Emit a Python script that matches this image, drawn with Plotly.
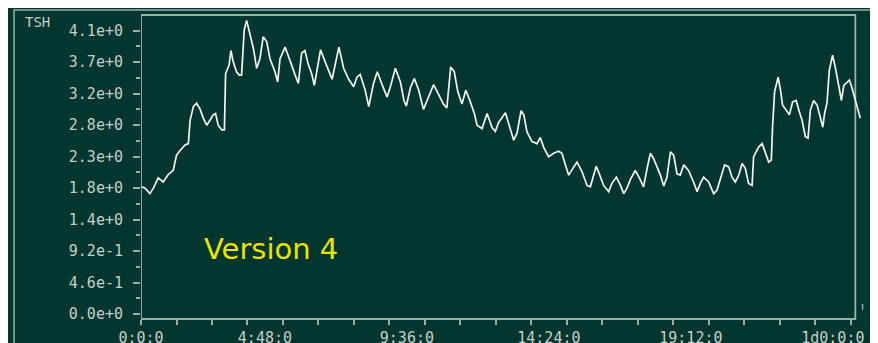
import plotly.graph_objects as go

# Time in hours since start, TSH value
hours = [0.02, 0.14, 0.30, 0.42, 0.58, 0.75, 0.92, 1.09, 1.20, 1.32, 1.49, 1.60, 1.66, 1.77, 1.88, 1.99,
         2.11, 2.22, 2.33, 2.44, 2.52, 2.61, 2.73, 2.82, 2.86, 2.98, 3.04, 3.12, 3.23, 3.32, 3.40, 3.49,
         3.57, 3.69, 3.80, 3.91, 4.02, 4.13, 4.25, 4.36, 4.53, 4.62, 4.70, 4.87, 4.98, 5.09, 5.21, 5.32,
         5.43, 5.54, 5.66, 5.77, 5.86, 6.07, 6.23, 6.46, 6.69, 6.85, 7.02, 7.19, 7.30, 7.41, 7.58, 7.70,
         7.86, 7.99, 8.16, 8.32, 8.43, 8.60, 8.77, 8.89, 8.97, 9.11, 9.24, 9.39, 9.55, 9.72, 9.89, 10.06,
         10.22, 10.34, 10.47, 10.59, 10.71, 10.85, 10.98, 11.10, 11.27, 11.36, 11.53, 11.70, 11.87, 11.98,
         12.09, 12.32, 12.43, 12.60, 12.71, 12.85, 12.94, 13.05, 13.22, 13.39, 13.50, 13.61, 13.78, 13.95,
         14.12, 14.23, 14.35, 14.46, 14.63, 14.74, 14.91, 15.08, 15.19, 15.30, 15.39, 15.51, 15.64, 15.81,
         15.92, 16.07, 16.21, 16.32, 16.43, 16.54, 16.71, 16.86, 16.99, 17.11, 17.22, 17.33, 17.45, 17.56,
         17.67, 17.78, 17.90, 18.01, 18.12, 18.23, 18.35, 18.51, 18.68, 18.80, 18.91, 19.02, 19.19, 19.36,
         19.47, 19.59, 19.73, 19.87, 19.98, 20.09, 20.21, 20.32, 20.43, 20.54, 20.66, 20.71, 20.88, 21.00,
         21.11, 21.22, 21.31, 21.35, 21.42, 21.54, 21.62, 21.69, 21.81, 21.92, 22.03, 22.15, 22.26, 22.35,
         22.46, 22.55, 22.63, 22.74, 22.86, 22.97, 23.05, 23.11, 23.19, 23.27, 23.38, 23.47, 23.57, 23.68,
         23.76, 23.87, 23.95, 24.04, 24.15, 24.24, 24.32]
tsh = [1.86, 1.84, 1.76, 1.84, 1.99, 1.93, 2.04, 2.10, 2.32, 2.39, 2.47, 2.49, 2.83, 3.03, 3.08, 3.00,
       2.86, 2.76, 2.83, 2.91, 2.93, 2.76, 2.69, 2.69, 3.51, 3.64, 3.85, 3.68, 3.54, 3.49, 3.49, 4.15,
       4.29, 4.07, 3.88, 3.59, 3.73, 4.05, 3.98, 3.73, 3.54, 3.39, 3.73, 3.90, 3.78, 3.64, 3.49, 3.37,
       3.81, 3.85, 3.64, 3.51, 3.34, 3.86, 3.68, 3.43, 3.90, 3.59, 3.43, 3.32, 3.46, 3.50, 3.27, 3.03,
       3.37, 3.54, 3.34, 3.17, 3.32, 3.59, 3.39, 3.12, 3.04, 3.31, 3.44, 3.27, 2.99, 3.17, 3.35, 3.21,
       3.07, 3.01, 3.61, 3.54, 3.25, 3.07, 3.27, 3.14, 2.93, 2.76, 2.71, 2.93, 2.72, 2.67,
       2.80, 2.94, 2.77, 2.54, 2.64, 2.97, 2.91, 2.66, 2.52, 2.49, 2.58, 2.44, 2.30, 2.35,
       2.38, 2.35, 2.18, 2.03, 2.15, 2.22, 2.08, 1.88, 1.86, 2.03, 2.16, 2.03, 1.88, 1.79,
       1.91, 2.00, 1.88, 1.76, 1.84, 1.96, 2.10, 1.98, 1.86, 2.13, 2.35, 2.27, 2.15, 2.03,
       1.87, 2.00, 2.37, 2.32, 2.05, 2.03, 2.18, 2.10, 1.93, 1.79, 1.91, 2.00, 1.93, 1.76,
       1.81, 2.00, 2.18, 2.15, 2.00, 1.93, 2.03, 2.20, 2.13, 1.91, 1.88, 2.30, 2.44, 2.49,
       2.37, 2.22, 2.25, 2.73, 3.25, 3.46, 3.27, 3.05, 2.98, 2.91, 3.10, 3.12, 2.95, 2.83,
       2.59, 2.57, 2.98, 3.12, 3.05, 2.88, 2.73, 2.93, 3.08, 3.56, 3.78, 3.61, 3.37, 3.12,
       3.34, 3.39, 3.42, 3.30, 3.10, 2.98, 2.86]

y_tick_vals = [0, 0.46, 0.92, 1.38, 1.84, 2.30, 2.76, 3.22, 3.68, 4.14]
y_tick_text = ["0.0e+0", "4.6e-1", "9.2e-1", "1.4e+0", "1.8e+0",
               "2.3e+0", "2.8e+0", "3.2e+0", "3.7e+0", "4.1e+0"]
x_tick_vals = [0, 4.8, 9.6, 14.4, 19.2, 24.0]
x_tick_labels = ["0:0:0", "4:48:0", "9:36:0", "14:24:0", "19:12:0", "1d0:0:0"]

BG = "#02362e"
FRAME = "#9ab0a9"
LABEL = "#c3cfcb"
NB = "\u00a0" * 4
x_tick_text = [x_tick_labels[0]] + [t + NB for t in x_tick_labels[1:]]

fig = go.Figure()
fig.add_trace(go.Scatter(x=hours, y=tsh, mode="lines",
                         line=dict(color="#f4f4f4", width=1.7),
                         hoverinfo="skip", showlegend=False))

tickfont = dict(family="DejaVu Sans Mono", size=15, color=LABEL)

# The page body has an 8px margin, so the figure is 8px smaller each way.
fig.update_layout(
    width=870, height=335,
    margin=dict(l=133, r=16, t=7, b=24, autoexpand=False),
    paper_bgcolor=BG, plot_bgcolor=BG,
    showlegend=False,
    xaxis=dict(range=[0, 24.375], showgrid=False, zeroline=False, showline=False,
               automargin=False, ticklabeloverflow="allow",
               tickmode="array", tickvals=x_tick_vals, ticktext=x_tick_text,
               ticks="outside", ticklen=5, tickwidth=1.5, tickcolor=FRAME,
               tickfont=tickfont, ticklabelstandoff=0,
               minor=dict(tickmode="linear", tick0=0, dtick=1.2, ticks="outside",
                          ticklen=5, tickwidth=1.5, tickcolor=FRAME, showgrid=False)),
    yaxis=dict(range=[-0.07, 4.368], showgrid=False, zeroline=False, showline=False,
               automargin=False,
               tickmode="array", tickvals=y_tick_vals, ticktext=y_tick_text,
               ticks="outside", ticklen=7, tickwidth=1.5, tickcolor=FRAME,
               tickfont=tickfont, ticklabelstandoff=7,
               minor=dict(tickmode="linear", tick0=0, dtick=0.23, ticks="outside",
                          ticklen=4, tickwidth=1.5, tickcolor=FRAME, showgrid=False)),
    shapes=[
        # plot frame
        dict(type="rect", xref="x", yref="paper", x0=0, x1=24.15, y0=0, y1=1,
             line=dict(color=FRAME, width=1.8), layer="below"),
        # outer panel frame
        dict(type="rect", xref="paper", yref="paper", x0=-0.1761, x1=1.2, y0=-0.3, y1=1.0164,
             line=dict(color=FRAME, width=1.5), layer="below"),
    ],
    annotations=[
        dict(text="TSH", xref="paper", yref="paper", x=-0.1442, y=0.977,
             xanchor="center", yanchor="middle",
             showarrow=False, font=dict(family="DejaVu Sans Mono", size=14, color=LABEL)),
        dict(text="Version 4", xref="paper", yref="paper", x=0.1803, y=0.2303,
             xanchor="center", yanchor="middle",
             showarrow=False, font=dict(family="DejaVu Sans", size=29, color="#e8e400")),
        dict(text="ı", xref="paper", yref="paper", x=1.0, y=0.0395,
             xanchor="center", yanchor="middle",
             showarrow=False, font=dict(family="DejaVu Sans", size=11, color=LABEL)),
    ],
)

fig.write_html("out.html")
